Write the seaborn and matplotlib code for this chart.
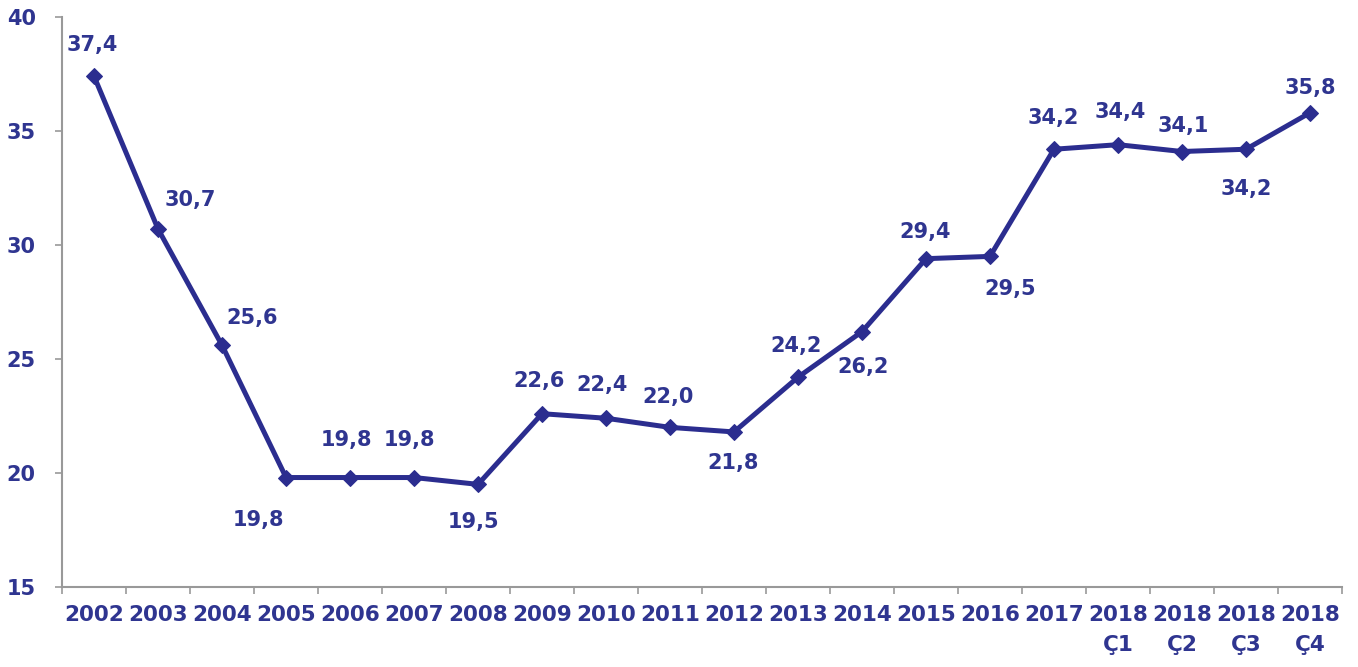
import numpy as np
import pandas as pd
import matplotlib
matplotlib.use("Agg")
import matplotlib.pyplot as plt
import seaborn as sns

# Data
periods = ["2002", "2003", "2004", "2005", "2006", "2007", "2008", "2009", "2010",
           "2011", "2012", "2013", "2014", "2015", "2016", "2017",
           "2018\nÇ1", "2018\nÇ2", "2018\nÇ3", "2018\nÇ4"]
values = [37.4, 30.7, 25.6, 19.8, 19.8, 19.8, 19.5, 22.6, 22.4, 22.0,
          21.8, 24.2, 26.2, 29.4, 29.5, 34.2, 34.4, 34.1, 34.2, 35.8]
y_ticks = [15, 20, 25, 30, 35, 40]

# label offsets (pixels) relative to each point
label_dx = [-2, 32, 30, -28, -4, -5, -5, -3, -4, -2, -1, -2, 1, -1, 20, -1, 2, 1, 0, 0]
label_dy = [31, 29, 27, -42, 38, 38, -38, 33, 33, 30, -31, 31, -35, 27, -33, 31, 33, 26, -40, 25]

df = pd.DataFrame({"period": periods, "value": values})
df["pos"] = np.arange(len(df))

line_color = "#2b2d8f"
text_color = "#2f3590"

sns.set_style("white")
plt.rcParams["font.family"] = ["DejaVu Sans"]
plt.rcParams["font.weight"] = "bold"

fig = plt.figure(figsize=(13.58, 6.67), dpi=100)
ax = fig.add_axes([0.0457, 0.12, 0.9425, 0.8545])

sns.lineplot(data=df, x="pos", y="value", ax=ax, color=line_color, linewidth=3.6,
             marker="D", markersize=8, markeredgecolor=line_color, sort=False)

for i, row in df.iterrows():
    ax.annotate(f"{row['value']:.1f}".replace(".", ","), (row["pos"], row["value"]),
                xytext=(label_dx[i] * 0.72, label_dy[i] * 0.72), textcoords="offset points",
                ha="center", va="center", fontsize=15, fontweight="bold", color=text_color)

ax.set_xlim(-0.5, len(periods) - 0.5)
ax.set_ylim(15, 40)
ax.set_yticks(y_ticks)
ax.set_xticks(df["pos"])
ax.set_xticklabels(periods, linespacing=1.6)
ax.set_xticks(np.arange(len(periods) + 1) - 0.5, minor=True)
ax.tick_params(axis="x", which="major", bottom=True, length=0, pad=13, labelsize=15.5,
               labelcolor=text_color)
ax.tick_params(axis="x", which="minor", bottom=True, length=5, width=1.2, color="#999999",
               direction="out")
ax.tick_params(axis="y", left=True, length=5, width=1.2, color="#999999", direction="out",
               pad=14, labelsize=15, labelcolor=text_color)
for lab in ax.get_xticklabels() + ax.get_yticklabels():
    lab.set_fontweight("bold")

for side in ["top", "right"]:
    ax.spines[side].set_visible(False)
for side in ["left", "bottom"]:
    ax.spines[side].set_color("#999999")
    ax.spines[side].set_linewidth(1.5)
ax.set_xlabel("")
ax.set_ylabel("")

fig.savefig("out.png", dpi=100)
